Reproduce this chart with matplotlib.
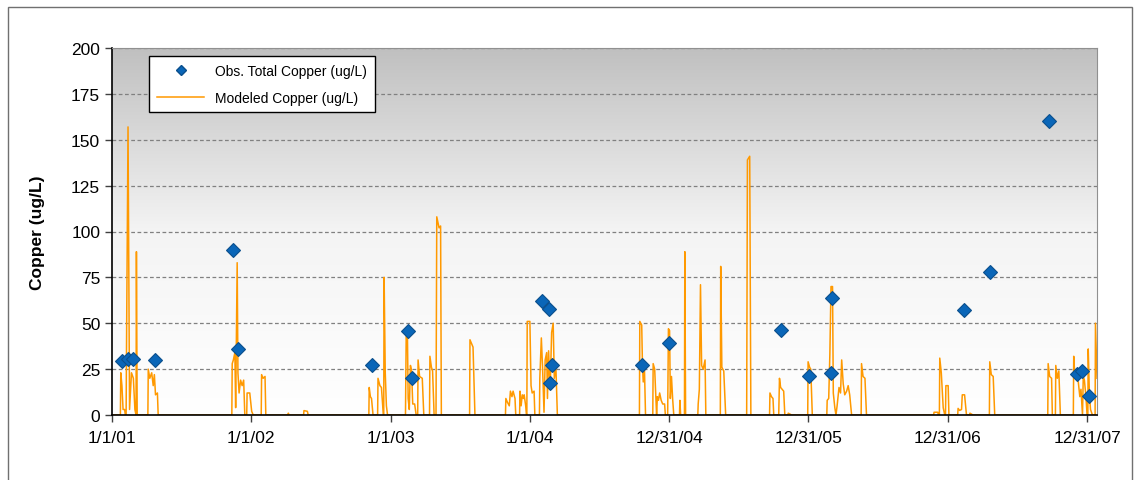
import numpy as np
import pandas as pd
import matplotlib
matplotlib.use("Agg")
import matplotlib.pyplot as plt
from matplotlib.lines import Line2D

plt.rcParams['font.family'] = ['Liberation Sans', 'DejaVu Sans']

START = pd.Timestamp("2001-01-01")

# modeled copper, vertices as (days after 1/1/01, ug/L)
model_day = [0, 22, 23, 26, 29, 33, 35, 37, 38, 42, 46, 51, 56, 60, 63, 64, 66,
             94, 95, 99, 104, 108, 111, 114, 119, 121,
             314, 315, 318, 322, 324, 328, 330, 333, 337, 341, 345, 348,
             353, 354, 361, 366, 370, 391, 392, 396, 401, 403,
             461, 462, 464, 502, 503, 512, 514,
             673, 674, 677, 680, 684, 696, 697, 702, 706, 711, 712, 713, 716, 719, 722,
             769, 771, 774, 776, 779, 782, 785, 788, 793, 797, 801, 802, 806, 813, 817,
             832, 833, 837, 840, 844, 849, 851, 857, 861, 863, 937, 938, 942, 946, 951,
             1031, 1032, 1036, 1041, 1044, 1048, 1051, 1056, 1058, 1068, 1069, 1072, 1075,
             1078, 1080, 1084, 1086, 1087, 1088, 1092, 1095, 1098, 1101, 1106, 1108,
             1120, 1121, 1125, 1128, 1132, 1135, 1139, 1141, 1144, 1148, 1152, 1156,
             1159, 1163, 1167,
             1382, 1383, 1388, 1390, 1392, 1395, 1398, 1417, 1418, 1422, 1425, 1427,
             1429, 1432, 1435, 1439, 1443, 1448, 1450, 1456, 1458, 1461, 1463, 1466,
             1469, 1472, 1487, 1488, 1490, 1500, 1501, 1503,
             1535, 1536, 1539, 1542, 1545, 1549, 1554, 1556, 1594, 1595, 1598, 1603, 1608,
             1663, 1665, 1668, 1671, 1674, 1723, 1724, 1728, 1732, 1734,
             1747, 1749, 1752, 1756, 1760, 1763, 1771, 1772, 1781,
             1823, 1824, 1828, 1831, 1835, 1873, 1874, 1878, 1881, 1884, 1888, 1890,
             1894, 1897, 1900, 1905, 1909, 1912, 1916, 1920, 1925, 1929, 1933, 1938,
             1963, 1964, 1968, 1973, 1977,
             2153, 2154, 2164, 2165, 2168, 2169, 2173, 2178, 2182, 2184, 2185, 2191, 2193,
             2216, 2217, 2221, 2226, 2228, 2234, 2239, 2247, 2248, 2256,
             2299, 2300, 2304, 2309, 2313,
             2452, 2453, 2457, 2462, 2464, 2472, 2473, 2477, 2481, 2485,
             2519, 2520, 2523, 2527, 2532, 2536, 2539, 2543, 2545, 2548, 2552, 2555,
             2557, 2558, 2561, 2564, 2569, 2576, 2577, 2581]
model_cu = [0, 0, 23, 16, 3, 3, 0, 0, 36, 157, 3, 23, 20, 3, 0, 89, 0,
            0, 25, 20, 23, 16, 22, 11, 12, 0,
            0, 28, 30, 34, 4, 83, 23, 12, 19, 16, 19, 0,
            0, 12, 12, 2, 0, 0, 22, 20, 21, 0,
            0, 1, 0, 0, 2.4, 2, 0,
            0, 15, 10, 9, 0, 0, 20, 16, 15, 0, 0, 75, 23, 5, 0,
            0, 46, 46, 9, 3, 27, 24, 6, 6, 0, 0, 30, 21, 20, 0,
            0, 32, 26, 24, 0, 0, 108, 102, 103, 0, 0, 41, 39, 37, 0,
            0, 9, 7, 5, 13, 10, 13, 9, 0, 0, 13, 5, 11,
            9, 11, 5, 0, 0, 51, 51, 51, 16, 12, 13, 0,
            0, 20, 42, 27, 1.5, 30, 34, 9, 35, 14, 45, 50,
            20, 27, 0,
            0, 51, 49, 27, 18, 27, 0, 0, 28, 25, 10, 0,
            10, 8, 12, 8, 6, 6, 0, 0, 47, 46, 9, 21,
            9, 0, 0, 8, 0, 0, 89, 0,
            0, 6, 14, 71, 27, 25, 30, 0, 0, 81, 26, 24, 0,
            0, 139, 140, 141, 0, 0, 12, 10, 9, 0,
            0, 20, 15, 14, 13, 0, 0, 1, 0,
            0, 29, 26, 25, 0, 0, 8, 9, 33, 70, 70, 12,
            4, 0, 5, 15, 12, 30, 17, 11, 13, 16, 11, 0,
            0, 28, 21, 20, 0,
            0, 1.5, 1.5, 0, 0, 31, 23, 4, 0, 0, 16, 16, 0,
            0, 3.6, 2.5, 3, 11, 11, 0, 0, 1, 0,
            0, 29, 22, 21, 0,
            0, 28, 21, 20, 0, 0, 27, 20, 24, 0,
            0, 32, 21, 20, 18, 10, 14, 0, 21, 19, 10, 0,
            0, 36, 12, 3, 0, 0, 50, 20]

# observed total copper (days after 1/1/01, ug/L)
obs_day = [25, 41, 54, 113, 318, 329, 680, 775, 787, 1128, 1145, 1152, 1148,
           1389, 1459, 1752, 1827, 1887, 1884, 2232, 2300, 2455, 2529, 2542, 2560]
obs_cu = [29.5, 30.5, 30.5, 30, 90, 36, 27, 46, 20, 62, 58, 27, 17.4,
          27.4, 39.4, 46.3, 21.4, 63.6, 22.7, 57, 78, 160, 22.3, 23.8, 10.4]

tick_day = [0, 365, 730, 1095, 1460, 1825, 2190, 2555]
tick_labels = ["1/1/01", "1/1/02", "1/1/03", "1/1/04", "12/31/04", "12/31/05", "12/31/06", "12/31/07"]

to_date = lambda d: START + pd.to_timedelta(d, unit="D")
model_dates = to_date(np.array(model_day, dtype=float))
obs_dates = to_date(np.array(obs_day, dtype=float))
ticks = to_date(np.array(tick_day, dtype=float))

fig = plt.figure(figsize=(11.34, 4.81), dpi=100)
ax = fig.add_axes([112/1134, 1-416/481, 985/1134, 367/481])

# gradient plot area
grad = np.linspace(0, 1, 256).reshape(-1, 1)
cmap = matplotlib.colors.LinearSegmentedColormap.from_list("g", ["#ffffff", "#f4f4f4", "#c0c0c0"])
ax.imshow(grad, aspect="auto", cmap=cmap, origin="lower", extent=[0, 1, 0, 1],
          transform=ax.transAxes, zorder=0)

for yv in range(25, 201, 25):
    ax.axhline(yv, color="#808080", lw=0.9, ls=(0, (3, 2)), zorder=1)

ax.plot(model_dates, model_cu, color="#FF9900", lw=1.1, zorder=2)
ax.plot(obs_dates, obs_cu, ls="none", marker="D", ms=7, mfc="#0A66B8",
        mec="#0B4F8C", mew=0.8, zorder=3)

ax.set_xlim(to_date(0), to_date(2581))
ax.set_ylim(0, 200)
ax.set_yticks(range(0, 201, 25))
ax.set_xticks(ticks)
ax.set_xticklabels(tick_labels)
ax.tick_params(axis="both", labelsize=12.5, direction="out", length=5, width=1, color="#404040")
ax.tick_params(axis="x", pad=6)
ax.set_ylabel("Copper (ug/L)", fontsize=12.5, fontweight="bold", labelpad=19)

for s in ["left", "bottom"]:
    ax.spines[s].set_color("#000000")
    ax.spines[s].set_linewidth(1.2)
for s in ["top", "right"]:
    ax.spines[s].set_color("#909090")

handles = [Line2D([], [], ls="none", marker="D", ms=5, mfc="#0A66B8", mec="#0B4F8C"),
           Line2D([], [], color="#FF9900", lw=1.1)]
leg = ax.legend(handles, ["Obs. Total Copper (ug/L)", "Modeled Copper (ug/L)"],
                loc="upper left", bbox_to_anchor=(0.031, 0.996), fontsize=10,
                frameon=True, fancybox=False, edgecolor="black", framealpha=1,
                handlelength=3.4, borderpad=0.55, labelspacing=0.9)
leg.get_frame().set_linewidth(1.0)

# outer chart frame
fig.add_artist(plt.Rectangle((8/1134, -0.05), 1124/1134, 1.05 - 8/481, transform=fig.transFigure,
                             fill=False, edgecolor="#707070", lw=1))

fig.savefig("out.png", dpi=100)
